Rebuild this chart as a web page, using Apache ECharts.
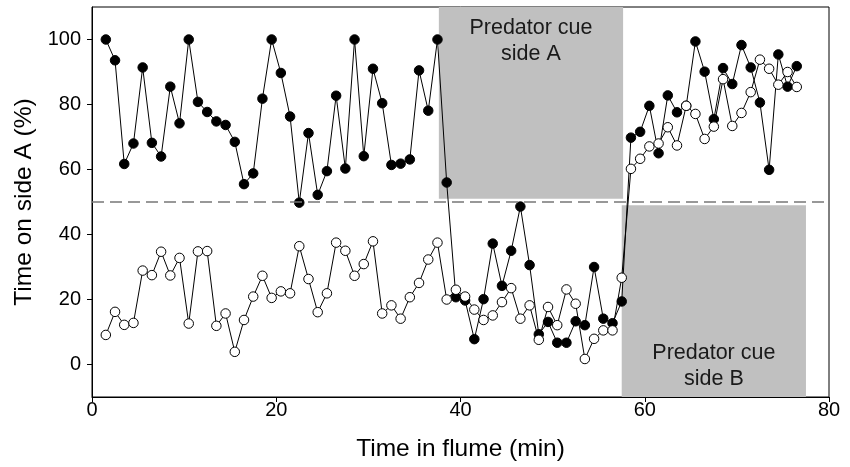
<!DOCTYPE html>
<html>
<head>
<meta charset="utf-8">
<script src="https://cdn.jsdelivr.net/npm/echarts@6/dist/echarts.min.js"></script>
<style>html,body{margin:0;padding:0;background:#fff}#c{width:850px;height:467px}</style>
</head>
<body>
<div id="c"></div>
<script>
const times = [1.5,2.5,3.5,4.5,5.5,6.5,7.5,8.5,9.5,10.5,11.5,12.5,13.5,14.5,15.5,16.5,17.5,18.5,19.5,
  20.5,21.5,22.5,23.5,24.5,25.5,26.5,27.5,28.5,29.5,30.5,31.5,32.5,33.5,34.5,35.5,36.5,37.5,38.5,
  39.5,40.5,41.5,42.5,43.5,44.5,45.5,46.5,47.5,48.5,49.5,50.5,51.5,52.5,53.5,54.5,55.5,56.5,57.5,
  58.5,59.5,60.5,61.5,62.5,63.5,64.5,65.5,66.5,67.5,68.5,69.5,70.5,71.5,72.5,73.5,74.5,75.5,76.5];
const filledSeries = [100,93.6,61.7,68.0,91.4,68.2,64.0,85.5,74.2,100,80.8,77.7,74.8,73.7,68.5,55.5,58.8,81.8,100,
  89.7,76.3,49.8,71.2,52.2,59.5,82.7,60.3,100,64.1,91.0,80.4,61.4,61.8,63.1,90.5,78.1,100,56.0,
  20.7,19.7,7.8,20.1,37.2,24.2,35.0,48.6,30.6,9.3,13.1,6.7,6.7,13.3,12.1,30.0,14.1,12.7,19.4,
  69.8,71.6,79.6,65.0,82.8,77.6,79.6,99.4,90.1,75.5,91.2,86.3,98.3,91.4,80.6,59.9,95.4,85.5,91.8];
const openSeries = [9.1,16.2,12.2,12.8,28.9,27.5,34.7,27.4,32.8,12.6,34.8,34.9,11.9,15.7,3.9,13.7,20.9,27.3,20.5,
  22.5,21.9,36.4,26.3,16.1,21.9,37.5,35.0,27.3,30.9,37.9,15.7,18.2,14.1,20.7,25.1,32.3,37.5,20.0,
  23.0,20.9,16.9,13.7,15.1,19.2,23.5,14.1,18.2,7.6,17.7,12.1,23.1,18.7,1.7,7.9,10.5,10.5,26.7,
  60.2,63.3,67.1,68.0,73.0,67.4,79.6,77.1,69.4,73.2,87.8,73.4,77.4,83.8,93.8,91.0,86.1,90.0,85.4];
const yTicks = [0,20,40,60,80,100];
const cueA = {label: 'Predator cue\nside A', x: [37.65, 57.65], y: [51, 110]};
const cueB = {label: 'Predator cue\nside B', x: [57.5, 77.5], y: [-10, 49]};
const refLine = 50;

const font = "'Liberation Sans', Arial, sans-serif";
const chart = echarts.init(document.getElementById('c'));
const pair = (ys) => times.map((t, i) => [t, ys[i]]);
chart.setOption({
  animation: false,
  grid: {left: 92, right: 21, top: 7, bottom: 65, show: true, borderColor: '#000', borderWidth: 1},
  xAxis: {
    type: 'value', min: 0, max: 80, interval: 20,
    name: 'Time in flume (min)', nameLocation: 'middle', nameGap: 40,
    nameTextStyle: {fontSize: 24.5, color: '#000', fontFamily: font},
    axisLine: {show: true, onZero: false, lineStyle: {color: '#000', width: 1}},
    axisTick: {show: true, length: 5, lineStyle: {color: '#000'}},
    axisLabel: {fontSize: 20, color: '#000', fontFamily: font, margin: 3},
    splitLine: {show: false}
  },
  yAxis: {
    type: 'value', min: -10, max: 110,
    name: 'Time on side A (%)', nameLocation: 'middle', nameGap: 54,
    nameTextStyle: {fontSize: 24.5, color: '#000', fontFamily: font},
    axisLine: {show: true, onZero: false, lineStyle: {color: '#000', width: 1}},
    axisTick: {show: true, length: 5, lineStyle: {color: '#000'}, customValues: yTicks},
    axisLabel: {fontSize: 20, color: '#000', fontFamily: font, margin: 11, customValues: yTicks},
    splitLine: {show: false}
  },
  series: [
    {
      type: 'line', data: pair(filledSeries), z: 3,
      symbol: 'circle', symbolSize: 9.5,
      lineStyle: {color: '#000', width: 1},
      itemStyle: {color: '#000', borderColor: '#000', borderWidth: 1},
      markArea: {
        silent: true,
        itemStyle: {color: '#c0c0c0'},
        label: {fontSize: 21.5, color: '#1a1a1a', fontFamily: font, lineHeight: 26},
        data: [
          [{xAxis: cueA.x[0], yAxis: cueA.y[0], name: cueA.label, label: {position: 'insideTop', distance: 8}},
           {xAxis: cueA.x[1], yAxis: cueA.y[1]}],
          [{xAxis: cueB.x[0], yAxis: cueB.y[0], name: cueB.label, label: {position: 'insideBottom', distance: 5}},
           {xAxis: cueB.x[1], yAxis: cueB.y[1]}]
        ]
      },
      markLine: {
        silent: true, symbol: 'none',
        lineStyle: {color: '#777', width: 1.5, type: [12, 6]},
        label: {show: false},
        data: [{yAxis: refLine}]
      }
    },
    {
      type: 'line', data: pair(openSeries), z: 4,
      symbol: 'circle', symbolSize: 9.5,
      lineStyle: {color: '#000', width: 1},
      itemStyle: {color: '#fff', borderColor: '#000', borderWidth: 1}
    }
  ]
});
</script>
</body>
</html>
